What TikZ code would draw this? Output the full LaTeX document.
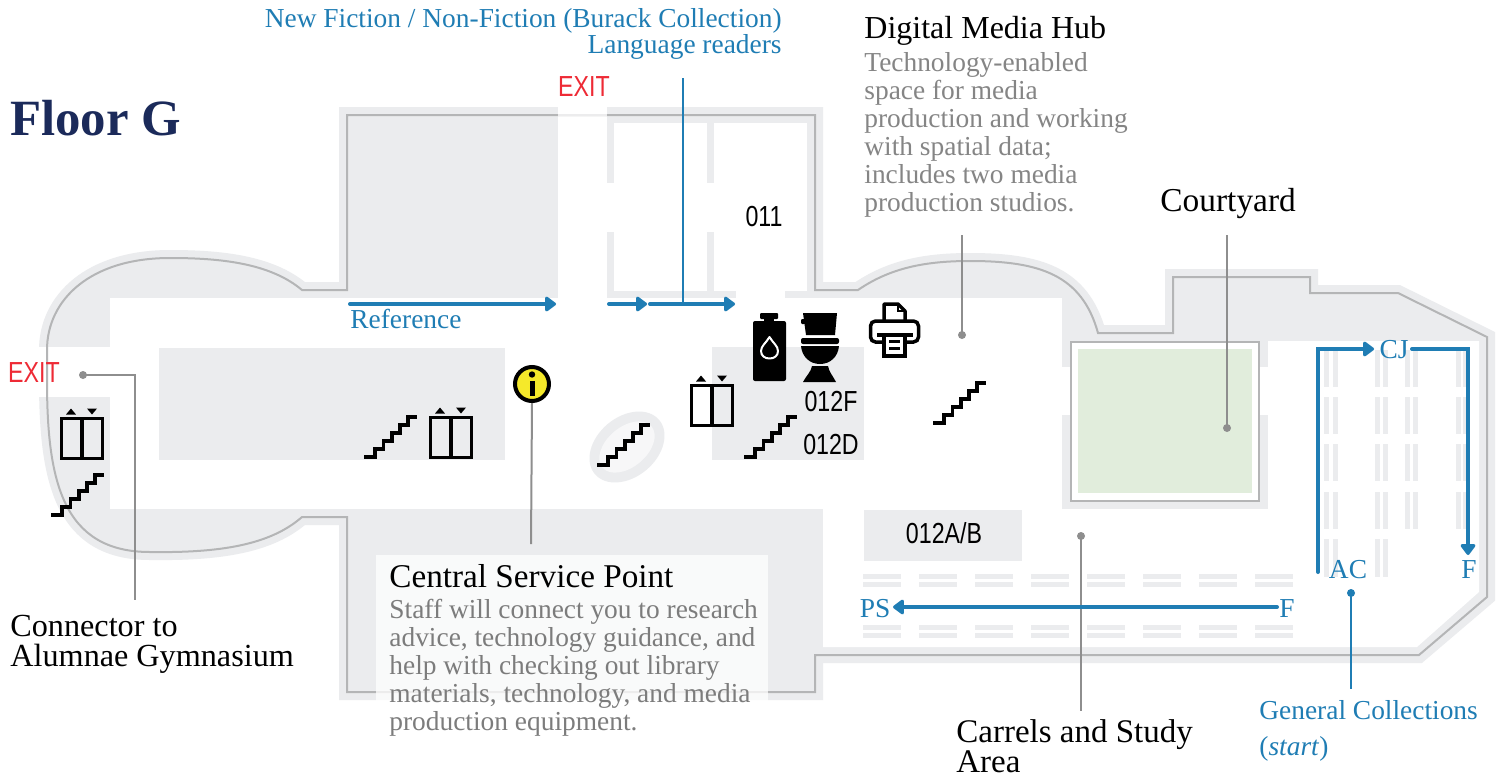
\documentclass[tikz,border=0pt]{standalone}
\usepackage{fontspec}
\setmainfont{Liberation Serif}
\newfontfamily\labelsans[FakeStretch=0.8]{Liberation Sans}
\usetikzlibrary{arrows.meta}
\definecolor{floorgray}{HTML}{EBECEE}
\definecolor{wallgray}{HTML}{B4B5B6}
\definecolor{leadergray}{HTML}{8E8E8E}
\definecolor{bluelink}{HTML}{1F7DB4}
\definecolor{bodygray}{HTML}{7C7C7C}
\definecolor{navy}{HTML}{1B2A5A}
\definecolor{exitred}{HTML}{EE2A35}
\definecolor{court}{HTML}{E1EDDC}
\definecolor{infoyellow}{HTML}{F5E92A}
\tikzset{
  floorwhite/.style={fill=white,draw=none},
  shelf/.style={fill=floorgray,draw=none},
  leader/.style={draw=leadergray,line width=1pt},
  leaderdot/.style={circle,fill=leadergray,draw=none,minimum size=4pt,inner sep=0pt},
  bluedot/.style={circle,fill=bluelink,draw=none,minimum size=4pt,inner sep=0pt},
  bluethin/.style={draw=bluelink,line width=1pt},
  route/.style={draw=bluelink,line width=2pt,line cap=round,-{Triangle[round,length=6pt,width=8.5pt]}},
  txt/.style={anchor=base west,inner sep=0pt},
  heading/.style={txt,font=\fontsize{#1}{15}\selectfont,text=black},
  para/.style={anchor=north west,inner sep=0pt,align=left,font=\fontsize{13.7}{14}\selectfont,text=bodygray},
  bluetxt/.style={inner sep=0pt,font=\fontsize{13.7}{13}\selectfont,text=bluelink},
  roomlabel/.style={inner sep=0pt,font=\labelsans\fontsize{14.5}{14.5}\selectfont,text=black},
  exitlabel/.style={inner sep=0pt,font=\labelsans\fontsize{14.5}{14.5}\selectfont,text=exitred},
  pics/stairicon/.style={code={
    \draw[black,line width=1.75pt] (0,0)--(11,0)--(11,-8)--(19.5,-8)--(19.5,-16)--(28,-16)--(28,-24)--(36,-24)--(36,-32)--(44,-32)--(44,-40)--(53,-40);
  }},
  pics/lifticon/.style={code={
    \draw[black,line width=1.75pt] (1.5,1.5) rectangle (42.5,41.5);
    \draw[black,line width=1.75pt] (22,1.5)--(22,41.5);
    \fill[black] (6,-2.5)--(16,-2.5)--(11,-8.5)--cycle;
    \fill[black] (27,-8.5)--(37,-8.5)--(32,-2.5)--cycle;
  }},
}
\begin{document}
\begin{tikzpicture}[x=0.5pt,y=-0.5pt]
\useasboundingbox[fill=white] (0,0) rectangle (1504,777);

% building body and its thick pale band
\def\wallpath{(347,115)--(815,115)--(815,290)--(858,290)
  .. controls (890,268) and (925,261) .. (970,261)
  .. controls (1040,261) and (1082,275) .. (1098,333)
  --(1173,333)--(1173,277)--(1310,277)--(1310,293)--(1398,293)--(1487,337)--(1487,597)--(1419,655)
  --(815,655)--(815,692)--(347,692)--(347,517)--(302,517)
  .. controls (270,545) and (220,553) .. (150,552)
  .. controls (62,552) and (47,480) .. (47,380)
  --(47,350)
  .. controls (47,300) and (90,258) .. (170,258)
  .. controls (220,258) and (270,263) .. (302,290)
  --(347,290)--cycle}
\fill[floorgray,draw=floorgray,line width=8pt,line join=miter] \wallpath;

% open floor areas
\fill[floorwhite] (110,298) rectangle (1062,509);
\fill[floorwhite] (30,347) rectangle (110,397);
\fill[floorwhite] (558,98) rectangle (607,298);
\fill[floorwhite] (614,123) rectangle (707,291);
\fill[floorwhite] (714,123) rectangle (807,291);
\fill[floorwhite] (607,183) rectangle (714,232);
\fill[floorwhite] (736,291) rectangle (785,298);
\fill[floorwhite] (823,509)--(1268,509)--(1268,341)--(1479,341)--(1479,592)--(1417,647)--(823,647)--cycle;
\fill[floorwhite] (1062,367) rectangle (1071,415);
\fill[floorwhite] (1259,367) rectangle (1268,415);

% solid blocks
\fill[floorgray] (159,348) rectangle (505,460);
\fill[floorgray] (712,347) rectangle (864,460);
\fill[floorgray] (864,510) rectangle (1022,561);

% courtyard
\fill[white,draw=wallgray,line width=1pt] (1071,342) rectangle (1259,501);
\fill[court] (1078,349) rectangle (1252,493);

% carrel shelves
\foreach \sx in {863,919,975,1031,1087,1143,1199,1255}{
  \foreach \sy in {574,582,625,633}{
    \fill[shelf] (\sx,\sy) rectangle ++(38,5);
  }
}
% stack shelves
\foreach \sx in {1324,1333,1375,1383,1405,1413,1456,1463}{
  \foreach \sy in {350,397,444,492}{
    \fill[shelf] (\sx,\sy) rectangle ++(5,37);
  }
}
\foreach \sx in {1324,1333,1375,1383}{
  \fill[shelf] (\sx,539) rectangle ++(5,38);
}

% wall line
\draw[wallgray,line width=1pt,line join=miter] \wallpath;
\draw[white!75!wallgray,line width=1pt] (558,115)--(607,115);

% stair oval
\fill[floorgray,rotate around={40:(627,447)}] (627,447) ellipse [x radius=42,y radius=30];
\fill[white!60!floorgray,rotate around={40:(627,447)}] (627,447) ellipse [x radius=32,y radius=20];

% leaders
\node[leaderdot] (dotExit) at (83,375) {};
\coordinate (exitElbow) at (135,375);
\coordinate (exitEnd) at (135,600);
\draw[leader] (dotExit.center)--(exitElbow)--(exitEnd);
\coordinate (infoEnd) at (531,544);
\coordinate (hubTop) at (962,235);
\node[leaderdot] (dotHub) at (962,335) {};
\draw[leader] (hubTop)--(dotHub.center);
\coordinate (courtTop) at (1227,235);
\node[leaderdot] (dotCourt) at (1227,428) {};
\draw[leader] (courtTop)--(dotCourt.center);
\node[leaderdot] (dotCarrel) at (1081,536) {};
\coordinate (carrelEnd) at (1081,711);
\draw[leader] (dotCarrel.center)--(carrelEnd);

% route arrows
\coordinate (refA) at (350,304); \coordinate (refB) at (556,304);
\draw[route] (refA)--(refB);
\coordinate (fictionA) at (609,304); \coordinate (fictionB) at (647,304);
\draw[route] (fictionA)--(fictionB);
\coordinate (langA) at (650,304); \coordinate (langB) at (735,304);
\draw[route] (langA)--(langB);
\coordinate (langTop) at (683,78); \coordinate (langFoot) at (683,304);
\draw[bluethin] (langTop)--(langFoot);
\node[bluedot] (dotGeneral) at (1351,593) {};
\coordinate (generalEnd) at (1351,689);
\draw[bluethin] (dotGeneral.center)--(generalEnd);

% service point panel
\fill[white,fill opacity=0.75] (376,555) rectangle (768,742);

% icons
\pic at (51,515) {stairicon};
\pic at (364,457) {stairicon};
\pic at (597,465) {stairicon};
\pic at (744,457) {stairicon};
\pic at (933,423) {stairicon};
\pic at (60,417) {lifticon};
\pic at (429,416) {lifticon};
\pic at (690,384) {lifticon};

% info marker
\node[circle,fill=infoyellow,draw=black,line width=2pt,minimum size=17pt,inner sep=0pt] (info) at (532,384) {};
\fill[black] (532,374.5) circle [radius=3.2];
\draw[black,line width=2.5pt] (532,381)--(532,396);
\draw[leader] (info.south)--(infoEnd);

% water bottle
\fill[black,rounded corners=1pt] (753,321) rectangle (786,381);
\fill[black,rounded corners=0.5pt] (760,313) rectangle (778,319);
\fill[black] (764,318) rectangle (774,323);
\draw[white,line width=1pt,line join=round] (769.5,337) .. controls (766,343) and (761,346) .. (761,351) .. controls (761,356) and (765,358.5) .. (769.5,358.5) .. controls (774,358.5) and (778,356) .. (778,351) .. controls (778,346) and (773,343) .. (769.5,337) -- cycle;

% toilet
\fill[black] (803,313)--(837,313)--(835,335)--(806,335)--cycle;
\fill[black,rounded corners=0.5pt] (801,319) rectangle (806,324);
\fill[black,rounded corners=1pt] (801,338) rectangle (839,344);
\fill[black] (801,346) .. controls (802,357) and (810,364) .. (820,364) .. controls (830,364) and (838,357) .. (839,346) -- cycle;
\fill[black] (812,366)--(828,366) .. controls (829,372) and (833,376) .. (836,382)--(803,382) .. controls (806,376) and (811,372) .. (812,366)--cycle;

% printer
\draw[black,line width=1.75pt,line join=round] (884,320)--(884,304)--(898,304)--(905,311)--(905,320);
\draw[black,line width=1pt] (898,304)--(898,311)--(905,311);
\draw[black,line width=1.75pt,rounded corners=2.5pt] (884,342)--(870.5,342)--(870.5,321)--(918.5,321)--(918.5,342)--(905,342);
\draw[black,line width=2pt] (877,335)--(913,335);
\draw[black,line width=1.75pt] (884,335)--(884,356)--(905,356)--(905,335);
\draw[black,line width=1.5pt] (889,341)--(900,341) (889,348)--(900,348);

% route arrows that carry a stack label
\coordinate (acStart) at (1318,572); \coordinate (acCorner) at (1318,349); \coordinate (cjIn) at (1374,349);
\draw[route] (acStart)--(acCorner)--(cjIn);
\coordinate (cjOut) at (1412,349); \coordinate (fCorner) at (1468,349); \coordinate (fEnd) at (1468,555);
\draw[route] (cjOut)--(fCorner)--(fEnd);
\coordinate (psStart) at (1277,607); \coordinate (psEnd) at (893,607);
\draw[route] (psStart)--(psEnd);

% texts
\node[txt,font=\bfseries\fontsize{25.4}{25}\selectfont,text=navy] (floorTitle) at (10,135) {Floor G};
\node[exitlabel] (exitTop) at (584,87) {EXIT};
\node[exitlabel] (exitWest) at (34,373) {EXIT};
\node[roomlabel] (room011) at (764,217) {011};
\node[roomlabel] (room012F) at (831,402) {012F};
\node[roomlabel] (room012D) at (831,445) {012D};
\node[roomlabel] (room012AB) at (944,533) {012A/B};

\node[bluetxt,anchor=north east,align=right] (fictionLabel) at (782,8) {New Fiction / Non-Fiction (Burack Collection)\\[0pt]Language readers};
\node[bluetxt,txt] (refLabel) at (350,328) {Reference};
\node[bluetxt] (cjLabel) at (1394,350) {CJ};
\node[bluetxt] (acLabel) at (1348,570) {AC};
\node[bluetxt] (fRight) at (1469,570) {F};
\node[bluetxt] (fLeft) at (1287,609) {F};
\node[bluetxt] (psLabel) at (875,609) {PS};
\node[bluetxt,txt] (generalLabel) at (1259,719) {General Collections};
\node[bluetxt,txt] (startLabel) at (1259,755) {(\textit{start})};

\node[heading=16] (hubTitle) at (864,38) {Digital Media Hub};
\node[para,text=black!48] (hubText) at (864,52) {Technology-enabled\\space for media\\production and working\\with spatial data;\\includes two media\\production studios.};
\node[heading=16.7] (courtTitle) at (1160,211) {Courtyard};
\node[heading=16.6] (serviceTitle) at (389,587) {Central Service Point};
\node[para] (serviceText) at (389,599) {Staff will connect you to research\\advice, technology guidance, and\\help with checking out library\\materials, technology, and media\\production equipment.};
\node[heading=16.1,anchor=north west,align=left] (gymLabel) at (10,614.5) {Connector to\\Alumnae Gymnasium};
\node[heading=16.5,anchor=north west,align=left] (carrelLabel) at (956,719.5) {Carrels and Study\\Area};
\end{tikzpicture}
\end{document}
